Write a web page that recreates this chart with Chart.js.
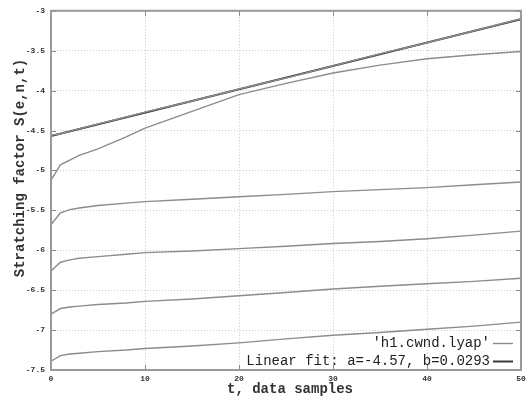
<!DOCTYPE html>
<html>
<head>
<meta charset="utf-8">
<script src="https://cdn.jsdelivr.net/npm/chart.js@4"></script>
<style>
html, body { margin: 0; background: #fff; }
canvas { display: block; }
</style>
</head>
<body>
<canvas id="lyapChart" width="526" height="397"></canvas>
<script>
// sample times (t, data samples)
const tSamples = [0, 1, 2, 3, 5, 8, 10, 15, 20, 25, 30, 35, 40, 45, 50];

// stretching factor curves, top to bottom
const curve1 = [-4.56, -4.54, -4.51, -4.48, -4.42, -4.33, -4.27, -4.13, -3.98, -3.84, -3.69, -3.54, -3.40, -3.25, -3.10];
const curve2 = [-5.12, -4.93, -4.87, -4.81, -4.73, -4.58, -4.47, -4.26, -4.05, -3.91, -3.78, -3.68, -3.60, -3.55, -3.51];
const curve3 = [-5.68, -5.53, -5.49, -5.47, -5.44, -5.41, -5.39, -5.36, -5.33, -5.30, -5.265, -5.24, -5.215, -5.18, -5.145];
const curve4 = [-6.26, -6.15, -6.12, -6.10, -6.08, -6.05, -6.03, -6.01, -5.98, -5.95, -5.915, -5.89, -5.855, -5.81, -5.76];
const curve5 = [-6.80, -6.73, -6.71, -6.70, -6.68, -6.66, -6.64, -6.61, -6.57, -6.53, -6.485, -6.45, -6.42, -6.39, -6.35];
const curve6 = [-7.39, -7.32, -7.30, -7.29, -7.27, -7.25, -7.23, -7.20, -7.16, -7.11, -7.065, -7.03, -6.99, -6.95, -6.90];

// linear fit endpoints (a=-4.57, b=0.0293)
const fitT = [0, 50];
const fitS = [-4.57, -3.105];

const dataLabel = "'h1.cwnd.lyap'";
const fitLabel = 'Linear fit: a=-4.57, b=0.0293';
const xTitle = 't, data samples';
const yTitle = 'Stratching factor S(e,n,t)';

const xMin = 0, xMax = 50, xStep = 10;
const yMin = -7.5, yMax = -3, yStep = 0.5;

// all data curves go in one dataset, separated by gaps like gnuplot blocks
const lyapPoints = [];
[curve1, curve2, curve3, curve4, curve5, curve6].forEach(function(curve) {
    curve.forEach(function(s, i) { lyapPoints.push({ x: tSamples[i], y: s }); });
    lyapPoints.push({ x: tSamples[tSamples.length - 1], y: null });
});
const fitPoints = fitT.map(function(t, i) { return { x: t, y: fitS[i] }; });

const monoFont = '"Liberation Mono", "DejaVu Sans Mono", monospace';

// frame, inner ticks, axis titles and gnuplot style key
const gnuplotDecor = {
    id: 'gnuplotDecor',
    afterDraw(chart) {
        const ctx = chart.ctx;
        const a = chart.chartArea;
        const xs = chart.scales.x, ys = chart.scales.y;
        ctx.save();

        ctx.strokeStyle = '#8a8a8a';
        ctx.lineWidth = 1;
        xs.ticks.forEach(function(tk) {
            const px = Math.round(xs.getPixelForValue(tk.value)) + 0.5;
            ctx.beginPath();
            ctx.moveTo(px, a.bottom); ctx.lineTo(px, a.bottom - 5);
            ctx.moveTo(px, a.top); ctx.lineTo(px, a.top + 5);
            ctx.stroke();
        });
        ys.ticks.forEach(function(tk) {
            const py = Math.round(ys.getPixelForValue(tk.value)) + 0.5;
            ctx.beginPath();
            ctx.moveTo(a.left, py); ctx.lineTo(a.left + 5, py);
            ctx.moveTo(a.right, py); ctx.lineTo(a.right - 5, py);
            ctx.stroke();
        });

        ctx.strokeStyle = '#9a9a9a';
        ctx.lineWidth = 2;
        ctx.strokeRect(a.left, a.top, a.right - a.left, a.bottom - a.top);

        ctx.fillStyle = '#333';
        ctx.font = 'bold 14px ' + monoFont;
        ctx.textAlign = 'center';
        ctx.textBaseline = 'middle';
        ctx.fillText(xTitle, 290, 389);

        ctx.save();
        ctx.translate(20, 168);
        ctx.rotate(-Math.PI / 2);
        ctx.fillText(yTitle, 0, 0);
        ctx.restore();

        ctx.font = '14px ' + monoFont;
        ctx.textAlign = 'right';
        chart.data.datasets.forEach(function(ds, i) {
            const y = 343 + i * 18;
            ctx.fillStyle = '#222';
            ctx.fillText(ds.label, 490, y);
            ctx.strokeStyle = ds.borderColor;
            ctx.lineWidth = ds.borderWidth;
            ctx.beginPath();
            ctx.moveTo(493, y + 0.5);
            ctx.lineTo(513, y + 0.5);
            ctx.stroke();
        });
        ctx.restore();
    }
};

new Chart(document.getElementById('lyapChart'), {
    type: 'scatter',
    data: {
        datasets: [{
            label: dataLabel,
            data: lyapPoints,
            showLine: true,
            spanGaps: false,
            borderColor: '#8c8c8c',
            borderWidth: 1.4,
            pointRadius: 0,
            tension: 0
        }, {
            label: fitLabel,
            data: fitPoints,
            showLine: true,
            borderColor: '#3a3a3a',
            borderWidth: 2,
            pointRadius: 0,
            tension: 0
        }]
    },
    options: {
        responsive: false,
        animation: false,
        layout: { padding: { left: 0, right: 5, top: 10, bottom: 0 } },
        plugins: {
            legend: { display: false },
            tooltip: { enabled: false }
        },
        scales: {
            x: {
                type: 'linear',
                min: xMin,
                max: xMax,
                afterFit: function(scale) {
                    scale.height = 27;
                    scale.paddingRight = 0;
                    scale.paddingLeft = 0;
                },
                grid: { color: '#c8c8c8', drawTicks: false },
                border: { display: false, dash: [1, 2] },
                ticks: {
                    stepSize: xStep,
                    padding: 4,
                    color: '#333',
                    font: { family: monoFont, size: 8, weight: 'bold' },
                    maxRotation: 0
                }
            },
            y: {
                min: yMin,
                max: yMax,
                afterFit: function(scale) { scale.width = 51; },
                grid: { color: '#c8c8c8', drawTicks: false },
                border: { display: false, dash: [1, 2] },
                ticks: {
                    stepSize: yStep,
                    padding: 6,
                    color: '#333',
                    font: { family: monoFont, size: 8, weight: 'bold' },
                    callback: function(v) { return String(v); }
                }
            }
        }
    },
    plugins: [gnuplotDecor]
});
</script>
</body>
</html>
